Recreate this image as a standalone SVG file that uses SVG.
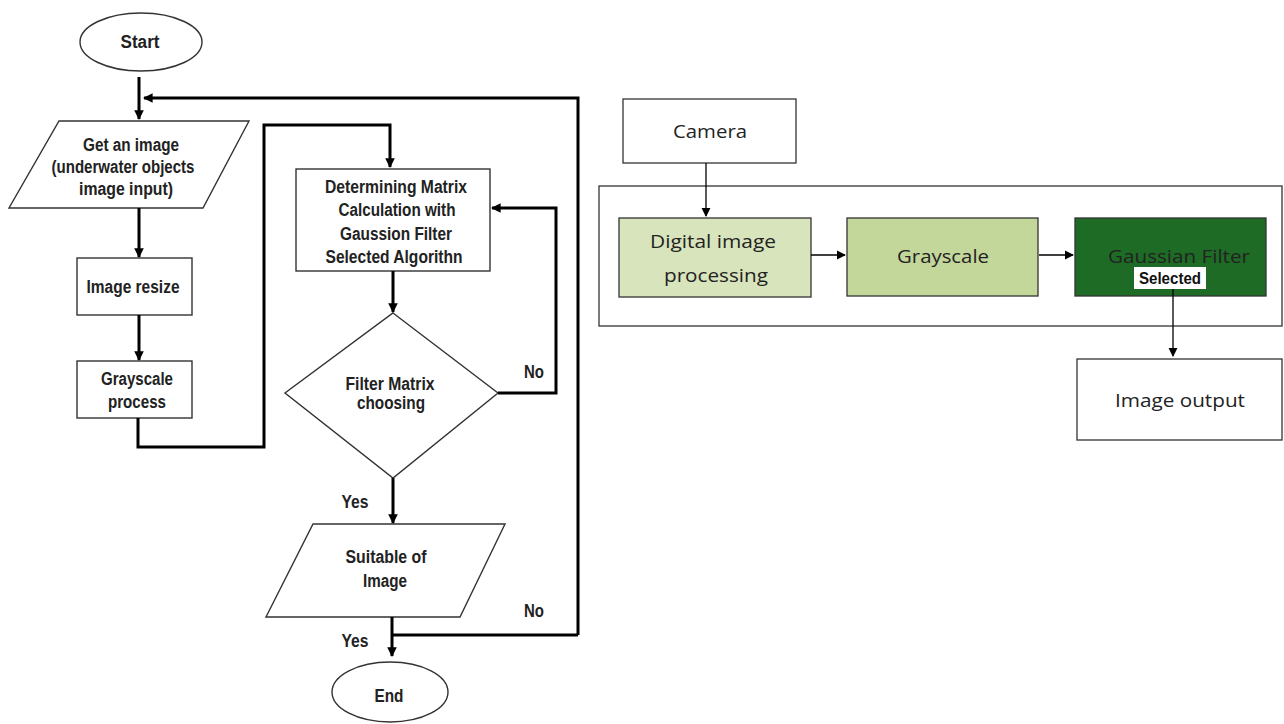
<svg xmlns="http://www.w3.org/2000/svg" width="1284" height="724" viewBox="0 0 1284 724">
<defs>
<marker id="ah" viewBox="0 0 10 10" refX="9" refY="5" markerWidth="3.2" markerHeight="3.2" orient="auto" markerUnits="strokeWidth"><path d="M0,0 L10,5 L0,10 z" fill="#000"/></marker>
<marker id="ah2" viewBox="0 0 10 10" refX="9" refY="5" markerWidth="7" markerHeight="7" orient="auto" markerUnits="strokeWidth"><path d="M0,0 L10,5 L0,10 z" fill="#000"/></marker>
<style>
.sh{fill:#fff;stroke:#333;stroke-width:1.4}
.t{font-family:"Liberation Sans",Arial,sans-serif;font-weight:bold;font-size:18px;fill:#222;text-anchor:middle}
.c{fill:none;stroke:#000;stroke-width:3}
.r{fill:none;stroke:#000;stroke-width:1.3}
.bx{stroke:#333;stroke-width:1.3}
.s{font-family:"Open Sans","Noto Sans",sans-serif;font-size:19px;fill:#222;text-anchor:middle}
</style>
</defs>
<rect width="1284" height="724" fill="#fff"/>
<g id="start"><ellipse class="sh" cx="141" cy="42" rx="61" ry="29"/><text class="t" x="140" y="48" textLength="39" lengthAdjust="spacingAndGlyphs">Start</text></g>
<g id="get-image"><polygon class="sh" points="59,121 249,121 203,208 9,208"/><text class="t" x="131" y="151" textLength="96" lengthAdjust="spacingAndGlyphs">Get an image</text><text class="t" x="123" y="173" textLength="143" lengthAdjust="spacingAndGlyphs">(underwater objects</text><text class="t" x="126" y="195" textLength="94" lengthAdjust="spacingAndGlyphs">image input)</text></g>
<g id="resize"><rect class="sh" x="77" y="258" width="115" height="57"/><text class="t" x="133" y="293" textLength="93" lengthAdjust="spacingAndGlyphs">Image resize</text></g>
<g id="grayscale-process"><rect class="sh" x="77" y="361" width="115" height="57"/><text class="t" x="137" y="385" textLength="72" lengthAdjust="spacingAndGlyphs">Grayscale</text><text class="t" x="137" y="408" textLength="58" lengthAdjust="spacingAndGlyphs">process</text></g>
<g id="determining"><rect class="sh" x="296" y="169" width="194" height="102"/><text class="t" x="396" y="193" textLength="142" lengthAdjust="spacingAndGlyphs">Determining Matrix</text><text class="t" x="397" y="216" textLength="117" lengthAdjust="spacingAndGlyphs">Calculation with</text><text class="t" x="396" y="240" textLength="112" lengthAdjust="spacingAndGlyphs">Gaussion Filter</text><text class="t" x="394" y="263" textLength="137" lengthAdjust="spacingAndGlyphs">Selected Algorithn</text></g>
<g id="decision"><polygon class="sh" points="393,313 498,393 393,478 285,393"/><text class="t" x="390" y="390" textLength="89" lengthAdjust="spacingAndGlyphs">Filter Matrix</text><text class="t" x="391" y="409" textLength="68" lengthAdjust="spacingAndGlyphs">choosing</text></g>
<g id="suitable"><polygon class="sh" points="313,524 505,524 460,617 266,617"/><text class="t" x="386" y="563" textLength="81" lengthAdjust="spacingAndGlyphs">Suitable of</text><text class="t" x="385" y="587" textLength="44" lengthAdjust="spacingAndGlyphs">Image</text></g>
<g id="end"><ellipse class="sh" cx="390" cy="692" rx="58" ry="30"/><text class="t" x="389" y="702" textLength="29" lengthAdjust="spacingAndGlyphs">End</text></g>
<g id="connectors">
<line class="c" x1="139" y1="77" x2="139" y2="119" marker-end="url(#ah)"/>
<polyline class="c" points="578,635 578,98 144,98" marker-end="url(#ah)"/>
<line class="c" x1="139" y1="208" x2="139" y2="257" marker-end="url(#ah)"/>
<line class="c" x1="139" y1="315" x2="139" y2="360" marker-end="url(#ah)"/>
<polyline class="c" points="138,418 138,447 264,447 264,125 390,125 390,167" marker-end="url(#ah)"/>
<line class="c" x1="393" y1="271" x2="393" y2="312" marker-end="url(#ah)"/>
<polyline class="c" points="498,393 556,393 556,208 492,208" marker-end="url(#ah)"/>
<line class="c" x1="393" y1="478" x2="393" y2="523" marker-end="url(#ah)"/>
<line class="c" x1="392" y1="617" x2="392" y2="656" marker-end="url(#ah)"/>
<line class="c" x1="392" y1="635" x2="578" y2="635"/>
<text class="t" x="534" y="378" textLength="20" lengthAdjust="spacingAndGlyphs">No</text>
<text class="t" x="355" y="508" textLength="27" lengthAdjust="spacingAndGlyphs">Yes</text>
<text class="t" x="534" y="617" textLength="20" lengthAdjust="spacingAndGlyphs">No</text>
<text class="t" x="355" y="647" textLength="27" lengthAdjust="spacingAndGlyphs">Yes</text>
</g>
<g id="container"><rect x="599" y="186" width="683" height="140" fill="#fff" stroke="#333" stroke-width="1.3"/></g>
<g id="camera"><rect class="bx" x="623" y="99" width="173" height="64" fill="#fff"/><text class="s" x="710" y="138" textLength="74" lengthAdjust="spacingAndGlyphs">Camera</text></g>
<g id="digital"><rect class="bx" x="619" y="218" width="192" height="79" fill="#d8e4bc"/><text class="s" x="713" y="248" textLength="126" lengthAdjust="spacingAndGlyphs">Digital image</text><text class="s" x="716" y="282" textLength="104" lengthAdjust="spacingAndGlyphs">processing</text></g>
<g id="grayscale"><rect class="bx" x="847" y="218" width="191" height="78" fill="#c4d79b"/><text class="s" x="943" y="263" textLength="92" lengthAdjust="spacingAndGlyphs">Grayscale</text></g>
<g id="gaussian"><rect class="bx" x="1075" y="218" width="191" height="78" fill="#1e6b25"/><text class="s" x="1179" y="263" fill="#333" textLength="142" lengthAdjust="spacingAndGlyphs">Gaussian Filter</text><rect x="1134" y="267" width="72" height="22" fill="#fff"/><text class="t" x="1170" y="284" style="font-size:16px;fill:#111" textLength="62" lengthAdjust="spacingAndGlyphs">Selected</text></g>
<g id="output"><rect class="bx" x="1077" y="359" width="205" height="81" fill="#fff"/><text class="s" x="1180" y="407" textLength="130" lengthAdjust="spacingAndGlyphs">Image output</text></g>
<g id="connectors-right">
<line class="r" x1="706" y1="163" x2="706" y2="216" marker-end="url(#ah2)"/>
<line class="r" x1="811" y1="255" x2="845" y2="255" marker-end="url(#ah2)"/>
<line class="r" x1="1039" y1="255" x2="1073" y2="255" marker-end="url(#ah2)"/>
<line class="r" x1="1173" y1="289" x2="1173" y2="356" marker-end="url(#ah2)"/>
</g>
</svg>
